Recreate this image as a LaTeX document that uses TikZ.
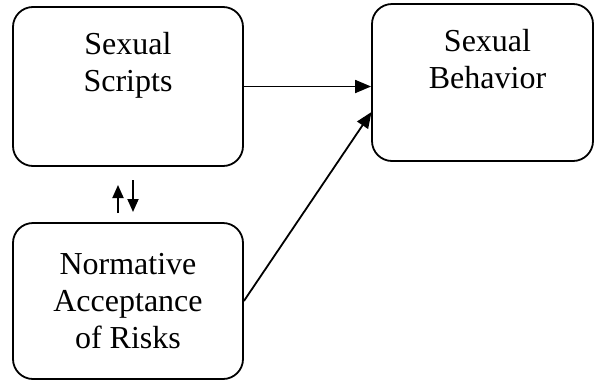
\documentclass[tikz,border=0pt]{standalone}
\usepackage{fontspec}
\setmainfont{Liberation Serif}
\usetikzlibrary{arrows.meta}

\begin{document}
\begin{tikzpicture}[x=1pt,y=-1pt]
\tikzset{
  boxnode/.style={draw,line width=1.8pt,rounded corners=20pt,inner sep=0pt},
  textnode/.style={align=center,inner sep=0pt,font=\fontsize{32}{37}\selectfont},
  directed/.style={-{Triangle[length=16pt,width=13pt]},line width=1.8pt},
  small/.style={-{Triangle[length=13pt,width=11pt]},line width=1.8pt}
}
\useasboundingbox (0,0) rectangle (594,381);
\node[boxnode,minimum width=230pt,minimum height=159pt] (scripts) at (128,86.5) {};
\node[boxnode,minimum width=221pt,minimum height=157pt] (behavior) at (482.5,82.5) {};
\node[boxnode,minimum width=230pt,minimum height=156pt] (norm) at (128,301) {};
\node[textnode,anchor=north] (t_scripts) at ([yshift=-26pt]scripts.north) {Sexual\\Scripts};
\node[textnode,anchor=north] (t_behavior) at ([xshift=5pt,yshift=-26pt]behavior.north) {Sexual\\Behavior};
\node[textnode] (t_norm) at (norm) {Normative\\Acceptance\\of Risks};
\coordinate (up_a) at (118,213);
\coordinate (up_b) at (118,185);
\coordinate (dn_a) at (133,180);
\coordinate (dn_b) at (133,212);
\coordinate (hit) at (371.5,112);
\draw[directed] (scripts.east) -- (scripts.east -| behavior.west);
\draw[directed] (norm.east) -- (hit);
\draw[small] (up_a) -- (up_b);
\draw[small] (dn_a) -- (dn_b);
\end{tikzpicture}
\end{document}
